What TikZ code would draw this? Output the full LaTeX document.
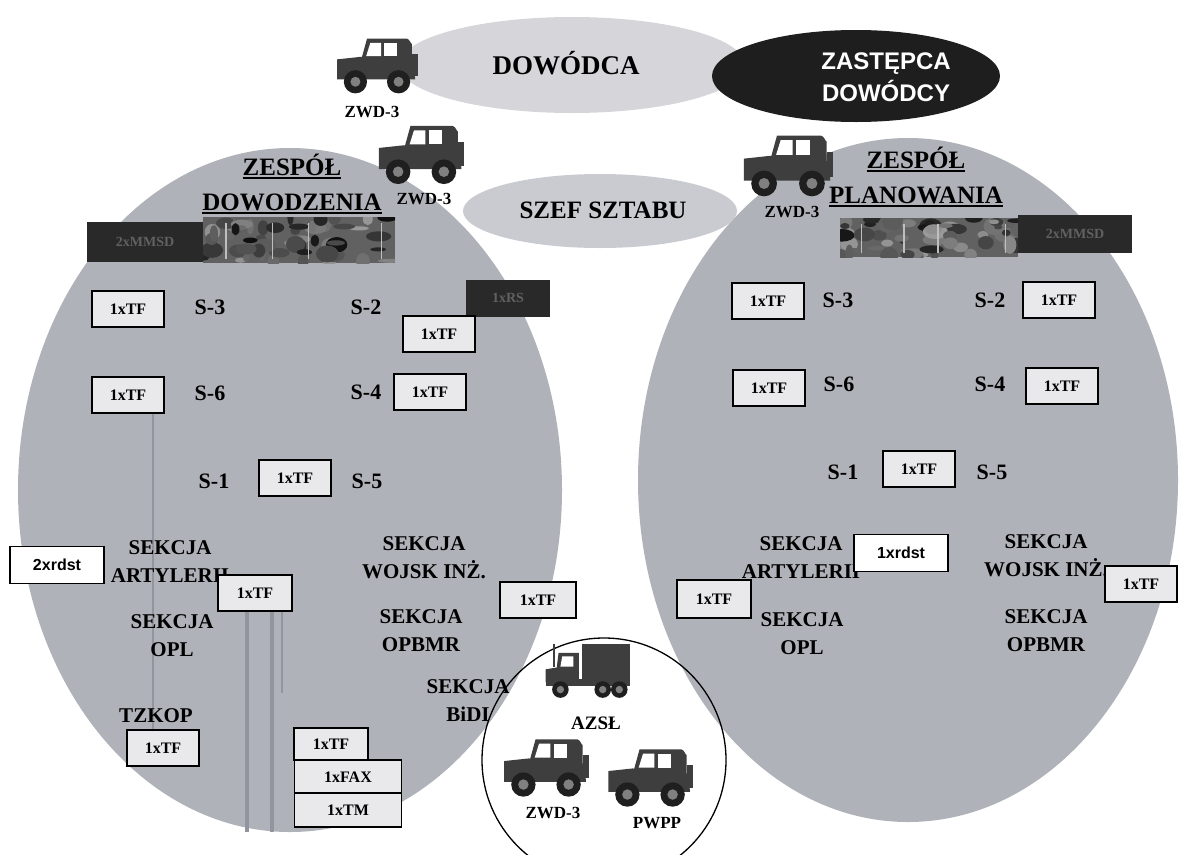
\documentclass[tikz,border=0pt]{standalone}
\usepackage{fontspec}
\setmainfont{Liberation Serif}
\newfontfamily\arialf{Liberation Sans}
\usetikzlibrary{shapes.geometric}

\definecolor{zonegray}{RGB}{176,178,185}
\definecolor{headgray}{RGB}{214,214,218}
\definecolor{chiefgray}{RGB}{202,203,208}
\definecolor{deputyblack}{RGB}{30,30,30}
\definecolor{tfgray}{RGB}{233,233,236}
\definecolor{cablegray}{RGB}{146,148,158}
\definecolor{vehicle}{RGB}{62,62,62}

% thick underline for the team titles
\newcommand\thickul[1]{\leavevmode\vtop{\hbox{#1}\kern1.5pt\hrule height 2pt}}

% camouflaged vehicle strip: seed, top-left, bottom-right
\newcommand\camostrip[5]{%
  \begin{scope}
    \clip (#2,#3) rectangle (#4,#5);
    \fill[black!62] (#2,#3) rectangle (#4,#5);
    \pgfmathsetseed{#1}
    \foreach \k in {1,...,60}{
      \pgfmathsetmacro\cx{#2+rnd*(#4-#2)}
      \pgfmathsetmacro\cy{#3+rnd*(#5-#3)}
      \pgfmathsetmacro\rx{3+rnd*10}
      \pgfmathsetmacro\ry{2+rnd*7}
      \pgfmathsetmacro\g{int(40+rnd*55)}
      \fill[black!\g] (\cx,\cy) ellipse [x radius=\rx, y radius=\ry];
    }
    \foreach \k in {0.12,0.36,0.55,0.93}{
      \pgfmathsetmacro\px{#2+\k*(#4-#2)}
      \draw[black!25, line width=1.2pt] (\px,#3+6) -- (\px,#5-4);
    }
  \end{scope}}

\tikzset{
  jeep/.pic={
    \fill[vehicle] (-20,-4) -- (-12,-33) -- (36,-33) to[out=0,in=-90] (42,-27) -- (42,4) -- cycle;
    \fill[vehicle] (-48,-8) -- (-20,-11) -- (44,-5) -- (46,16) -- (-48,16) -- cycle;
    \fill[white] (-8,-28) -- (5,-28) -- (5,-12) -- (-13,-12) -- cycle;
    \fill[white] (9,-28) -- (24,-28) -- (24,-12) -- (9,-12) -- cycle;
    \fill[vehicle] (42,-15) rectangle (49,12);
    \foreach \wx in {-26,26}{
      \fill[black!88] (\wx,19) circle[radius=14];
      \fill[black!50] (\wx,19) circle[radius=6];
    }
  },
  truck/.pic={
    \fill[vehicle] (-6,-32) rectangle (46,8);
    \fill[vehicle] (-46,-4) -- (-34,-6) -- (-32,-22) -- (-10,-22) -- (-10,10) -- (-46,10) -- cycle;
    \fill[white] (-28,-18) -- (-16,-18) -- (-16,-7) -- (-30,-7) -- cycle;
    \draw[vehicle, line width=2pt] (-37,-32) -- (-37,-6);
    \fill[vehicle] (-46,6) rectangle (46,14);
    \foreach \wx in {-30,16,34}{
      \fill[black!88] (\wx,18) circle[radius=9];
      \fill[black!50] (\wx,18) circle[radius=4];
    }
  }
}

\begin{document}
\begin{tikzpicture}[x=1pt,y=-1pt,
  every node/.style={inner sep=0pt},
  zone/.style={ellipse, fill=zonegray},
  bigtitle/.style={font=\bfseries\fontsize{27}{29}\selectfont},
  teamtitle/.style={font=\bfseries\fontsize{25}{35}\selectfont, align=center},
  cell/.style={font=\bfseries\fontsize{22}{24}\selectfont},
  sect/.style={font=\bfseries\fontsize{21}{28}\selectfont, align=center},
  tfbox/.style={draw, line width=1.3pt, fill=tfgray, minimum width=72pt, minimum height=36pt,
    font=\bfseries\fontsize{16}{18}\selectfont},
  rdbox/.style={draw, line width=1.3pt, fill=white, minimum width=94pt, minimum height=37pt,
    font=\arialf\bfseries\fontsize{16}{18}\selectfont},
  darkbox/.style={fill=black!84, text=black!62, font=\bfseries\fontsize{14}{16}\selectfont},
  vlabel/.style={font=\bfseries\fontsize{17}{19}\selectfont},
  cable/.style={draw=cablegray, line width=3.5pt},
  thincable/.style={draw=cablegray, line width=1.6pt}
]
\useasboundingbox (0,0) rectangle (1182,854);

% the two team areas
\node[zone, minimum width=544pt, minimum height=684pt] (teamCmd) at (290,490) {};
\node[zone, minimum width=540pt, minimum height=684pt] (teamPlan) at (908,480) {};

% commander and deputy
\node[ellipse, fill=headgray, minimum width=346pt, minimum height=96pt] (cmdShape) at (572,65) {};
\node[bigtitle] (cmd) at (566,63) {DOWÓDCA};
\node[ellipse, fill=deputyblack, minimum width=288pt, minimum height=92pt] (depShape) at (856,76) {};
\node[font=\arialf\bfseries\fontsize{24}{32}\selectfont, text=white, align=center] (dep) at (886,77) {ZASTĘPCA\\DOWÓDCY};

% chief of staff
\node[ellipse, fill=chiefgray, minimum width=274pt, minimum height=74pt] (chiefShape) at (600,211) {};
\node[font=\bfseries\fontsize{25}{27}\selectfont] (chief) at (603,210) {SZEF SZTABU};

% vehicles at the top
\pic[scale=0.83] (jeepCmd) at (377,66) {jeep};
\node[vlabel] (jeepCmdLbl) at (372,112) {ZWD-3};
\pic[scale=0.88] (jeepTeamC) at (421,155) {jeep};
\node[vlabel] (jeepTeamCLbl) at (424,199) {ZWD-3};
\pic[scale=0.92] (jeepTeamP) at (788,166) {jeep};
\node[vlabel] (jeepTeamPLbl) at (792,212) {ZWD-3};

% team titles
\node[teamtitle] (cmdTitle) at (292,184) {\thickul{ZESPÓŁ}\\\thickul{DOWODZENIA}};
\node[teamtitle] (planTitle) at (916,177) {\thickul{ZESPÓŁ}\\\thickul{PLANOWANIA}};

% mobile command vehicles
\camostrip{11}{203}{217}{395}{263}
\node[darkbox, minimum width=116pt, minimum height=40pt] (mmsdC) at (145,242) {2xMMSD};
\camostrip{23}{840}{218}{1018}{257}
\node[darkbox, minimum width=114pt, minimum height=38pt] (mmsdP) at (1075,234) {2xMMSD};

% cables in the command team
\coordinate (tapS6) at (153,0);
\coordinate (cableA) at (247,832);
\coordinate (cableB) at (272,832);
\coordinate (cableC) at (282,693);

% ---- command team cells ----
\node[tfbox] (tfC3) at (128,309) {1xTF};
\node[cell] (cS3) at (210,307) {S-3};
\node[cell] (cS2) at (366,307) {S-2};
\node[darkbox, minimum width=84pt, minimum height=37pt] (rsC) at (508,298) {1xRS};
\node[tfbox] (tfC2) at (439,334) {1xTF};

\node[tfbox] (tfC6) at (128,395) {1xTF};
\node[cell] (cS6) at (210,393) {S-6};
\node[cell] (cS4) at (366,392) {S-4};
\node[tfbox] (tfC4) at (430,392) {1xTF};

\node[cell] (cS1) at (214,481) {S-1};
\node[tfbox] (tfC1) at (295,478) {1xTF};
\node[cell] (cS5) at (367,481) {S-5};

\node[tfbox] (tfTz) at (163,748) {1xTF};
\draw[thincable] (tfC6.south -| tapS6) -- (tfTz.north -| tapS6);

\node[rdbox] (rdC) at (57,565) {2xrdst};
\node[sect] (artC) at (170,562) {SEKCJA\\ARTYLERII};
\node[tfbox, minimum width=74pt] (tfArt) at (255,593) {1xTF};
\draw[cable] (tfArt.south -| cableA) -- (cableA);
\draw[cable] (tfArt.south -| cableB) -- (cableB);
\draw[thincable] (tfArt.south -| cableC) -- (cableC);

\node[sect] (engC) at (424,558) {SEKCJA\\WOJSK INŻ.};
\node[tfbox, minimum width=76pt] (tfEng) at (538,600) {1xTF};
\node[sect] (aaC) at (172,636) {SEKCJA\\OPL};
\node[sect] (nbcC) at (421,631) {SEKCJA\\OPBMR};
\node[sect] (secC) at (468,701) {SEKCJA\\BiDI};
\node[sect] (tzkop) at (156,716) {TZKOP};

\node[tfbox, minimum width=74pt, minimum height=32pt] (tfStack) at (331,744) {1xTF};
\node[tfbox, minimum width=107pt, minimum height=34pt] (faxStack) at (348,777) {1xFAX};
\node[tfbox, minimum width=107pt, minimum height=34pt] (tmStack) at (348,810) {1xTM};

% ---- planning team cells ----
\node[tfbox] (tfP3) at (768,301) {1xTF};
\node[cell] (pS3) at (838,300) {S-3};
\node[cell] (pS2) at (990,300) {S-2};
\node[tfbox] (tfP2) at (1059,300) {1xTF};

\node[tfbox] (tfP6) at (769,388) {1xTF};
\node[cell] (pS6) at (839,384) {S-6};
\node[cell] (pS4) at (990,384) {S-4};
\node[tfbox] (tfP4) at (1062,386) {1xTF};

\node[cell] (pS1) at (843,472) {S-1};
\node[tfbox] (tfP1) at (919,469) {1xTF};
\node[cell] (pS5) at (992,472) {S-5};

\node[sect] (artP) at (801,558) {SEKCJA\\ARTYLERII};
\node[rdbox] (rdP) at (901,553) {1xrdst};
\node[sect] (engP) at (1046,556) {SEKCJA\\WOJSK INŻ.};
\node[tfbox] (tfEngP) at (1141,584) {1xTF};
\node[tfbox, minimum width=74pt, minimum height=38pt] (tfArtP) at (714,599) {1xTF};
\node[sect] (aaP) at (802,634) {SEKCJA\\OPL};
\node[sect] (nbcP) at (1046,631) {SEKCJA\\OPBMR};

% ---- support vehicles ----
\node[circle, draw, line width=1.3pt, minimum size=244pt] (support) at (604,760) {};
\pic[scale=0.92] (truckAzsl) at (588,673) {truck};
\node[vlabel, font=\bfseries\fontsize{19}{21}\selectfont] (azsl) at (596,723) {AZSŁ};
\pic[scale=0.87] (jeepSup) at (546,768) {jeep};
\node[vlabel] (jeepSupLbl) at (553,813) {ZWD-3};
\pic[scale=0.87] (jeepPwpp) at (650,778) {jeep};
\node[vlabel] (pwpp) at (657,823) {PWPP};
\end{tikzpicture}
\end{document}
